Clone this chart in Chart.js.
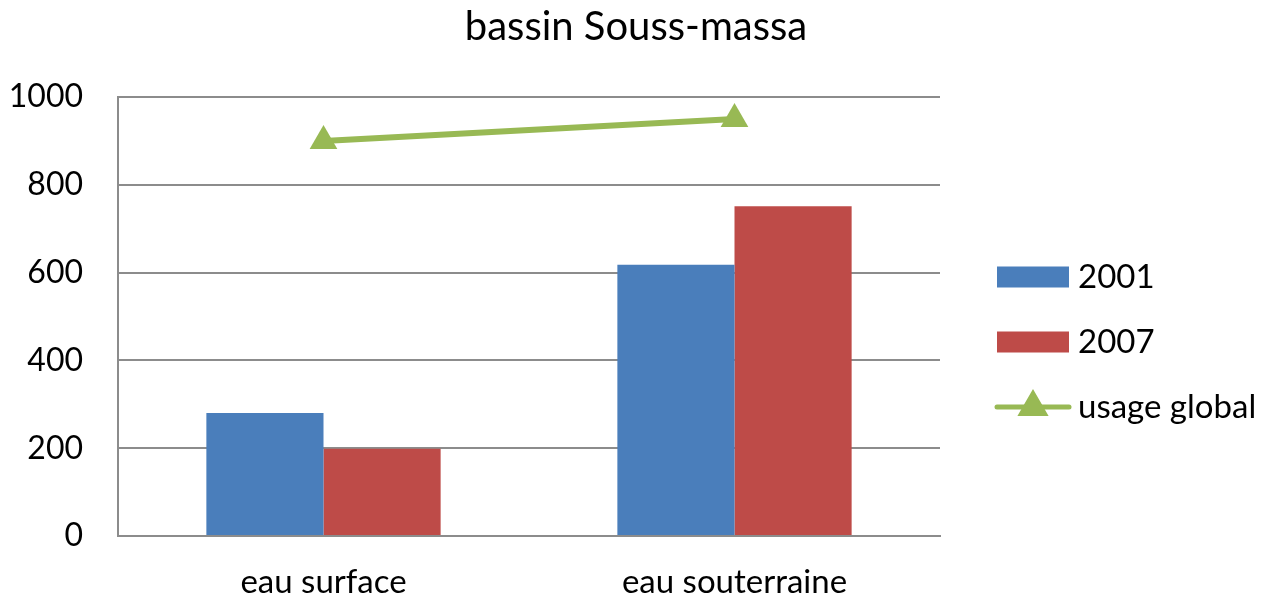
<!DOCTYPE html>
<html>
<head>
<meta charset="utf-8">
<script src="https://cdn.jsdelivr.net/npm/chart.js@4"></script>
<style>
  html, body { margin:0; padding:0; background:#fff; }
  #wrap { width:1270px; height:598px; }
</style>
</head>
<body>
<div id="wrap"><canvas id="chart" width="1270" height="598"></canvas></div>
<script>
// data
const categories = ['eau surface', 'eau souterraine'];
const values2001 = [280, 618];
const values2007 = [199, 751];
const usageGlobal = [900, 950];
const yTicks = [0, 200, 400, 600, 800, 1000];
const chartTitle = 'bassin Souss-massa';

const FONT = 'Lato, "Open Sans", sans-serif';
const BLUE = '#4A7EBB', RED = '#BE4B48', GREEN = '#98B954', GRID = '#8c8c8c';

// title + right-hand legend, drawn by hand (Excel-like look)
const excelBits = {
  id: 'excelBits',
  afterDraw(chart){
    const ctx = chart.ctx;
    const area = chart.chartArea;
    ctx.save();
    ctx.fillStyle = '#000';
    ctx.font = '40px ' + FONT;
    ctx.textAlign = 'center';
    ctx.textBaseline = 'middle';
    ctx.fillText(chartTitle, chart.width/2 + 1, 27);

    // legend
    const x0 = area.right + 57, bw = 72, bh = 21;
    const rows = [277, 342, 407];
    const ds = chart.data.datasets;
    const items = [ds[1], ds[2], ds[0]];
    ctx.textAlign = 'left';
    ctx.font = '33px ' + FONT;
    items.forEach((d, i) => {
      const y = rows[i];
      if(d.type === 'line'){
        ctx.strokeStyle = d.borderColor; ctx.lineWidth = 5; ctx.lineCap = 'round';
        ctx.beginPath(); ctx.moveTo(x0, y); ctx.lineTo(x0 + bw, y); ctx.stroke();
        Chart.helpers.drawPoint(ctx, {pointStyle:'triangle', radius:13, borderWidth:1}, x0 + bw/2, y);
        ctx.fillStyle = d.backgroundColor; ctx.fill();
      } else {
        ctx.fillStyle = d.backgroundColor;
        ctx.fillRect(x0, y - bh/2, bw, bh);
      }
      ctx.fillStyle = '#000';
      ctx.fillText(d.label, x0 + bw + 9, y);
    });
    ctx.restore();
  }
};

new Chart(document.getElementById('chart'), {
  type: 'bar',
  data: {
    labels: categories,
    datasets: [
      { type:'line', label:'usage global', data: usageGlobal, borderColor: GREEN, backgroundColor: GREEN,
        borderWidth: 6, pointStyle:'triangle', pointRadius: 16, pointBorderWidth: 0, pointBackgroundColor: GREEN, order: 0 },
      { label:'2001', data: values2001, backgroundColor: BLUE, order: 1 },
      { label:'2007', data: values2007, backgroundColor: RED, order: 1 }
    ]
  },
  options: {
    responsive: false,
    animation: false,
    layout: { padding: { top: 97, right: 330, bottom: 0, left: 0 } },
    datasets: { bar: { categoryPercentage: 0.57, barPercentage: 1 } },
    plugins: { legend: { display:false }, title: { display:false }, tooltip: { enabled:false } },
    scales: {
      x: {
        grid: { display:false, drawTicks:false },
        border: { display:true, color: GRID, width: 2 },
        ticks: { color:'#000', font:{ family: FONT, size: 33 }, padding: 27 },
        afterFit(scale){ scale.height = 62; }
      },
      y: {
        min: 0, max: 1000,
        afterBuildTicks(scale){ scale.ticks = yTicks.map(v => ({ value: v })); },
        grid: { color: GRID, lineWidth: 2, drawTicks:false },
        border: { display:true, color: GRID, width: 2 },
        ticks: { color:'#000', font:{ family: FONT, size: 32 }, padding: 35, callback: v => String(v) },
        afterFit(scale){ scale.width = 118; }
      }
    }
  },
  plugins: [excelBits]
});
</script>
</body>
</html>
